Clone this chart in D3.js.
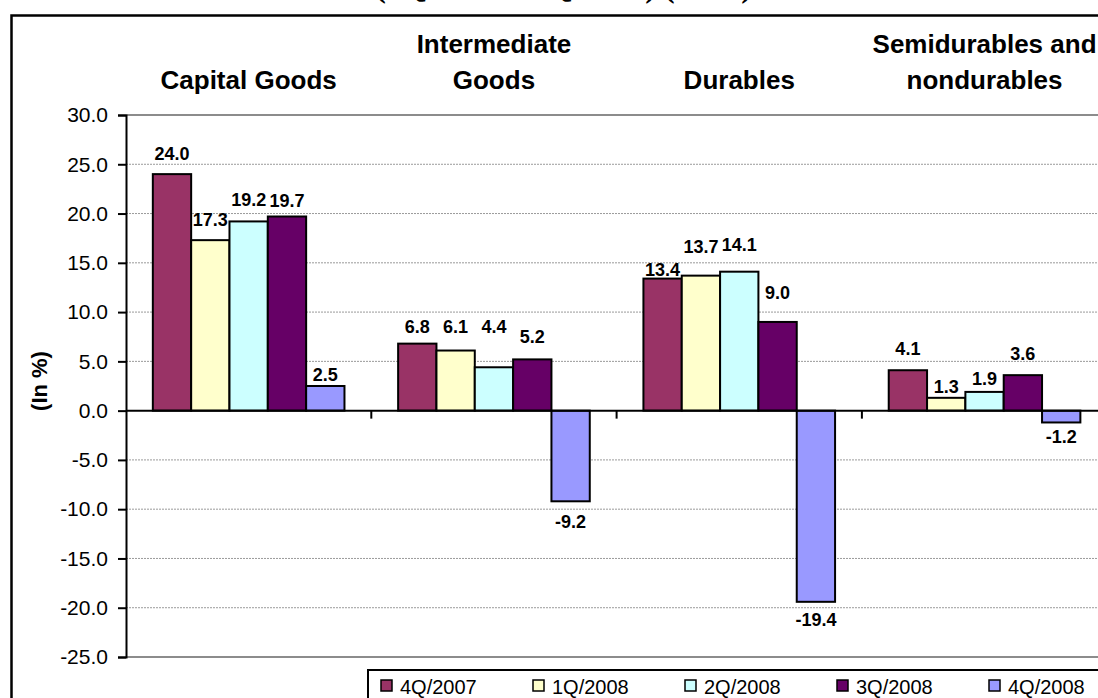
<!DOCTYPE html>
<html>
<head>
<meta charset="utf-8">
<script src="https://cdn.jsdelivr.net/npm/d3@7"></script>
<style>
  html, body { margin: 0; padding: 0; background: #fff; overflow: hidden; }
  svg { display: block; font-family: "Liberation Sans", Arial, Helvetica, sans-serif; }
</style>
</head>
<body>
<svg id="chart" width="1098" height="698"></svg>
<script>
// Categories and their header lines
const categories = ["Capital Goods", "Intermediate Goods", "Durables", "Semidurables and nondurables"];
const categoryLines = [["Capital Goods"], ["Intermediate", "Goods"], ["Durables"], ["Semidurables and", "nondurables"]];

// Quarters (series) and colours
const series = ["4Q/2007", "1Q/2008", "2Q/2008", "3Q/2008", "4Q/2008"];
const seriesColors = ["#993366", "#FFFFCC", "#CCFFFF", "#660066", "#9999FF"];

// Growth rates per quarter, by category (%)
const q4_2007 = [24.0, 6.8, 13.4, 4.1];
const q1_2008 = [17.3, 6.1, 13.7, 1.3];
const q2_2008 = [19.2, 4.4, 14.1, 1.9];
const q3_2008 = [19.7, 5.2, 9.0, 3.6];
const q4_2008 = [2.5, -9.2, -19.4, -1.2];
const seriesValues = [q4_2007, q1_2008, q2_2008, q3_2008, q4_2008];

// Value axis ticks
const yTicks = [-25, -20, -15, -10, -5, 0, 5, 10, 15, 20, 25, 30];

// Data-label spacing from the bar end (px), as placed on the sheet
const labelGap = [
  [14, 10.6, 3, 15],
  [14, 17.5, 23, 5],
  [15, 34, 21, 7],
  [9.5, 16.4, 23, 15],
  [4.7, 14, 11.5, 8]
];

const svg = d3.select("#chart");
const W = 1098, H = 698;
svg.append("rect").attr("width", W).attr("height", H).attr("fill", "#fff");

// Title (sits above the top edge; only its descenders reach the page)
svg.append("text")
  .attr("x", 752).attr("y", -3)
  .attr("text-anchor", "end")
  .attr("font-family", "'Liberation Serif', 'Times New Roman', serif")
  .attr("font-weight", "bold")
  .attr("font-size", 32)
  .text("Growth Rates (4Q/2007 – 4Q/2008) (in %)");

// Outer frame
svg.append("rect")
  .attr("x", 11.5).attr("y", 15.5)
  .attr("width", 1130).attr("height", 720)
  .attr("fill", "none").attr("stroke", "#000").attr("stroke-width", 2.5);

// Plot area
const plot = { left: 126, top: 115, bottom: 657, catStep: 245.3 };
plot.right = plot.left + plot.catStep * categories.length;

const y = d3.scaleLinear().domain([-25, 30]).range([plot.bottom, plot.top]);
const x0 = d3.scaleBand().domain(categories).range([plot.left, plot.right]).padding(0);
const x1 = d3.scaleBand().domain(series).range([0, x0.bandwidth()]).paddingInner(0).paddingOuter(0.7);

// Gridlines
svg.append("g").selectAll("line")
  .data(yTicks.filter(t => t !== 0 && t !== 30 && t !== -25))
  .join("line")
  .attr("x1", plot.left).attr("x2", plot.right)
  .attr("y1", d => y(d)).attr("y2", d => y(d))
  .attr("stroke", "#9a9a9a").attr("stroke-width", 1)
  .attr("stroke-dasharray", "2,1");

// Plot border (top and bottom)
[30, -25].forEach(v => {
  svg.append("line")
    .attr("x1", plot.left).attr("x2", plot.right)
    .attr("y1", y(v)).attr("y2", y(v))
    .attr("stroke", "#8c8c8c").attr("stroke-width", 2);
});

// Bars
const groups = svg.append("g").selectAll("g")
  .data(categories)
  .join("g")
  .attr("transform", d => `translate(${x0(d)},0)`);

groups.selectAll("rect")
  .data((c, ci) => series.map((s, si) => ({ s, si, ci, v: seriesValues[si][ci] })))
  .join("rect")
  .attr("x", d => x1(d.s))
  .attr("width", x1.bandwidth())
  .attr("y", d => y(Math.max(0, d.v)))
  .attr("height", d => Math.abs(y(d.v) - y(0)))
  .attr("fill", d => seriesColors[d.si])
  .attr("stroke", "#000").attr("stroke-width", 2);

// Data labels
groups.selectAll("text.val")
  .data((c, ci) => series.map((s, si) => ({ s, si, ci, v: seriesValues[si][ci] })))
  .join("text")
  .attr("class", "val")
  .attr("x", d => x1(d.s) + x1.bandwidth() / 2)
  .attr("y", d => d.v >= 0 ? y(d.v) - labelGap[d.si][d.ci] : y(d.v) + labelGap[d.si][d.ci] + 13)
  .attr("text-anchor", "middle")
  .attr("font-weight", "bold")
  .attr("font-size", 18)
  .attr("fill", "#000")
  .text(d => d.v.toFixed(1));

// Category axis (zero line) with ticks between categories
svg.append("line")
  .attr("x1", plot.left).attr("x2", plot.right)
  .attr("y1", y(0)).attr("y2", y(0))
  .attr("stroke", "#000").attr("stroke-width", 2);
svg.append("g").selectAll("line")
  .data(categories.slice(1))
  .join("line")
  .attr("x1", d => x0(d)).attr("x2", d => x0(d))
  .attr("y1", y(0)).attr("y2", y(0) + 8)
  .attr("stroke", "#000").attr("stroke-width", 2);

// Value axis
const yAxis = d3.axisLeft(y)
  .tickValues(yTicks)
  .tickSize(8)
  .tickPadding(10)
  .tickFormat(d => d.toFixed(1));
const ga = svg.append("g")
  .attr("transform", `translate(${plot.left},0)`)
  .call(yAxis);
ga.select(".domain").attr("stroke", "#000").attr("stroke-width", 2);
ga.selectAll(".tick line").attr("stroke", "#000").attr("stroke-width", 2);
ga.selectAll(".tick text")
  .attr("font-family", "'Liberation Sans', Arial, sans-serif")
  .attr("font-size", 21).attr("fill", "#000");

// Value axis title
svg.append("text")
  .attr("transform", `translate(47,381) rotate(-90)`)
  .attr("text-anchor", "middle")
  .attr("font-weight", "bold")
  .attr("font-size", 22)
  .text("(In %)");

// Category headers
const heads = svg.append("g").selectAll("text")
  .data(categories)
  .join("text")
  .attr("text-anchor", "middle")
  .attr("font-weight", "bold")
  .attr("font-size", 26)
  .attr("fill", "#000");
heads.each(function(d, i) {
  const lines = categoryLines[i];
  const cx = x0(d) + x0.bandwidth() / 2;
  const baseY = 89 - (lines.length - 1) * 36;
  d3.select(this).selectAll("tspan")
    .data(lines)
    .join("tspan")
    .attr("x", cx)
    .attr("y", (l, k) => baseY + k * 36)
    .text(l => l);
});

// Legend
const legend = svg.append("g");
legend.append("rect")
  .attr("x", 368).attr("y", 670)
  .attr("width", 800).attr("height", 60)
  .attr("fill", "#fff").attr("stroke", "#000").attr("stroke-width", 2);
const items = legend.selectAll("g.item")
  .data(series)
  .join("g")
  .attr("class", "item")
  .attr("transform", (d, i) => `translate(${381 + i * 152},0)`);
items.append("rect")
  .attr("x", 0).attr("y", 680)
  .attr("width", 11).attr("height", 11)
  .attr("fill", (d, i) => seriesColors[i])
  .attr("stroke", "#000").attr("stroke-width", 1.5);
items.append("text")
  .attr("x", 19).attr("y", 694)
  .attr("font-size", 20)
  .attr("fill", "#000")
  .text(d => d);
</script>
</body>
</html>
